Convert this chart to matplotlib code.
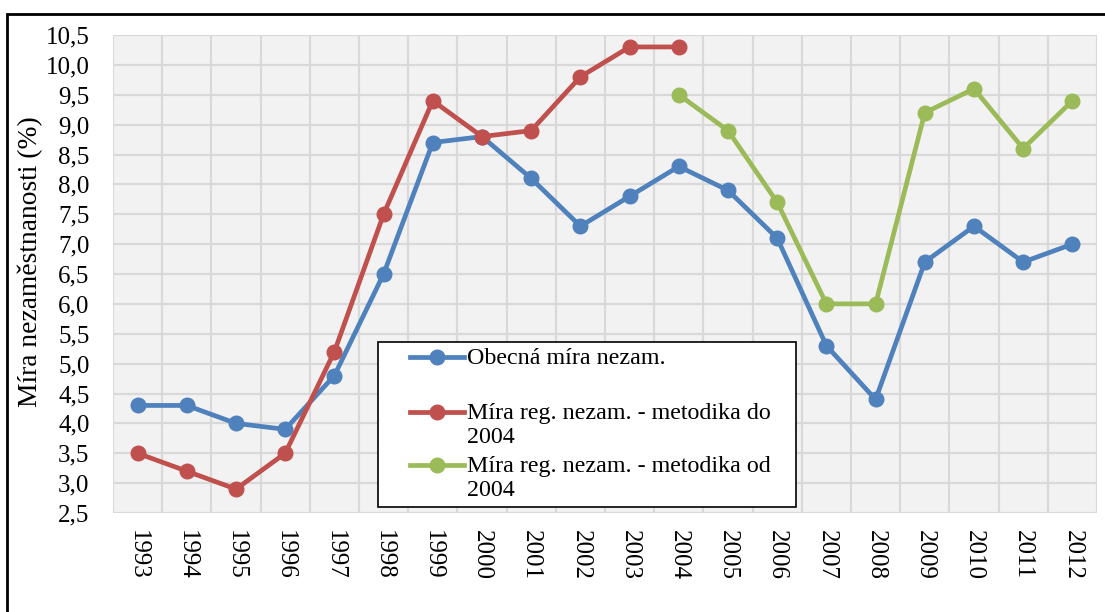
import numpy as np
import matplotlib
matplotlib.use("Agg")
import matplotlib.pyplot as plt
from matplotlib.patches import Rectangle
from matplotlib.lines import Line2D

plt.rcParams["font.family"] = ["Liberation Serif", "DejaVu Serif"]

# data
roky = [str(r) for r in range(1993, 2013)]
obecna = [4.3, 4.3, 4.0, 3.9, 4.8, 6.5, 8.7, 8.8, 8.1, 7.3,
          7.8, 8.3, 7.9, 7.1, 5.3, 4.4, 6.7, 7.3, 6.7, 7.0]
reg_do = [3.5, 3.2, 2.9, 3.5, 5.2, 7.5, 9.4, 8.8, 8.9, 9.8, 10.3, 10.3]
reg_od = [9.5, 8.9, 7.7, 6.0, 6.0, 9.2, 9.6, 8.6, 9.4]
yticks = np.arange(2.5, 10.51, 0.5)

nazvy = ["Obecná míra nezam.",
         "Míra reg. nezam. - metodika do\n2004",
         "Míra reg. nezam. - metodika od\n2004"]
barvy = ["#4F81BD", "#C0504D", "#9BBB59"]

W, H = 1105, 612
fig = plt.figure(figsize=(W / 100, H / 100), dpi=100)
ax = fig.add_axes([113 / W, 1 - 513 / H, (1097 - 113) / W, (513 - 35) / H])

x = np.arange(len(roky))
ax.plot(x, obecna, color=barvy[0], lw=3.4, marker="o", ms=10.5, zorder=3)
ax.plot(x[:len(reg_do)], reg_do, color=barvy[1], lw=3.4, marker="o", ms=10.5, zorder=3)
ax.plot(x[11:11 + len(reg_od)], reg_od, color=barvy[2], lw=3.4, marker="o", ms=10.5, zorder=3)

ax.set_facecolor("#F2F2F2")
ax.set_xlim(-0.5, len(roky) - 0.5)
ax.set_ylim(2.5, 10.5)
ax.set_yticks(yticks)
ax.set_yticklabels([f"{v:.1f}".replace(".", ",") for v in yticks])
ax.set_xticks(x)
ax.set_xticklabels(roky, rotation=-90, va="top")
ax.grid(False)
for v in yticks:
    ax.axhline(v, color="#D9D9D9", lw=1.6, zorder=1)
for v in np.arange(-0.5, len(roky)):
    ax.axvline(v, color="#D9D9D9", lw=1.6, zorder=1)
for s in ax.spines.values():
    s.set_visible(False)
ax.tick_params(axis="both", which="both", length=0, labelsize=18)
ax.tick_params(axis="y", pad=17)
ax.tick_params(axis="x", pad=12)
ax.set_ylabel("Míra nezaměstnanosti (%)", fontsize=19.8)
ax.yaxis.set_label_coords(-(113 - 43) / (1097 - 113), 0.525)

# legend drawn by hand (Excel style, marker aligned with first text line)
fig.patches.append(Rectangle((378 / W, 1 - 507 / H), (796 - 378) / W, (507 - 342) / H,
                             transform=fig.transFigure, fill=True, facecolor="white",
                             edgecolor="black", lw=1.2, zorder=5))
radky = [357, 412, 465]
for nazev, barva, yy in zip(nazvy, barvy, radky):
    yf = 1 - yy / H
    fig.lines.append(Line2D([410 / W, 464 / W], [yf, yf], transform=fig.transFigure,
                            color=barva, lw=3.4, zorder=6))
    fig.lines.append(Line2D([437 / W], [yf], transform=fig.transFigure, color=barva,
                            marker="o", ms=10.5, zorder=6))
    fig.text(467 / W, yf + 9 / H, nazev, fontsize=17.3, va="top", ha="left",
             linespacing=1.18, zorder=7)

# outer chart border
fig.patches.append(Rectangle((7 / W, -0.05), 1.1, 1 - 14 / H + 0.05,
                             transform=fig.transFigure, fill=False,
                             edgecolor="black", lw=2, zorder=10))

fig.savefig("out.png", dpi=100)
